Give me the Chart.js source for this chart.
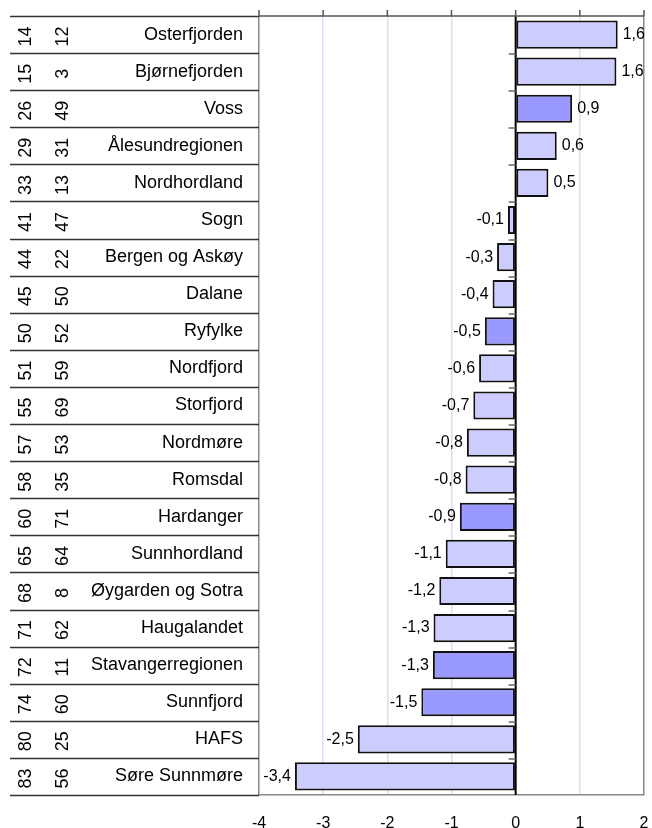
<!DOCTYPE html>
<html>
<head>
<meta charset="utf-8">
<script src="https://cdn.jsdelivr.net/npm/chart.js@4/dist/chart.umd.min.js"></script>
<style>
  body { margin: 0; background: #fff; }
</style>
</head>
<body>
<canvas id="myChart" width="652" height="828"></canvas>
<script>
// regions, top to bottom
const regions = [
  "Osterfjorden", "Bjørnefjorden", "Voss", "Ålesundregionen", "Nordhordland",
  "Sogn", "Bergen og Askøy", "Dalane", "Ryfylke", "Nordfjord", "Storfjord",
  "Nordmøre", "Romsdal", "Hardanger", "Sunnhordland", "Øygarden og Sotra",
  "Haugalandet", "Stavangerregionen", "Sunnfjord", "HAFS", "Søre Sunnmøre"
];
const rankA = [14, 15, 26, 29, 33, 41, 44, 45, 50, 51, 55, 57, 58, 60, 65, 68, 71, 72, 74, 80, 83];
const rankB = [12, 3, 49, 31, 13, 47, 22, 50, 52, 59, 69, 53, 35, 71, 64, 8, 62, 11, 60, 25, 56];
const values = [1.59, 1.57, 0.88, 0.64, 0.51, -0.12, -0.29, -0.36, -0.48, -0.57, -0.66,
  -0.76, -0.78, -0.87, -1.09, -1.19, -1.28, -1.29, -1.47, -2.46, -3.44];
const highlighted = ["Voss", "Ryfylke", "Hardanger", "Stavangerregionen", "Sunnfjord"];
const xTicks = [-4, -3, -2, -1, 0, 1, 2];

const FONT = "'Liberation Sans', Arial, sans-serif";

const fmt = (v) => v.toFixed(1).replace(".", ",");

const extras = {
  id: "extras",
  afterDatasetsDraw(chart) {
    const ctx = chart.ctx;
    const area = chart.chartArea;
    const xs = chart.scales.x;
    const n = regions.length;
    const rowH = (area.bottom - area.top) / n;
    const x0 = xs.getPixelForValue(0);

    ctx.save();
    // zero line + little dashes at the row borders
    ctx.strokeStyle = "#000";
    ctx.lineWidth = 2;
    ctx.beginPath();
    ctx.moveTo(x0, area.top);
    ctx.lineTo(x0, area.bottom);
    ctx.stroke();
    ctx.strokeStyle = "#666";
    ctx.lineWidth = 1.5;
    for (let k = 1; k < n; k++) {
      let yb = Math.round(area.top + k * rowH) + 1;
      ctx.beginPath();
      ctx.moveTo(x0 - 7, yb);
      ctx.lineTo(x0, yb);
      ctx.stroke();
    }

    // top axis line with ticks
    ctx.strokeStyle = "#555";
    ctx.lineWidth = 1.5;
    ctx.beginPath();
    ctx.moveTo(area.left, area.top);
    ctx.lineTo(area.right, area.top);
    ctx.stroke();
    xTicks.forEach((t) => {
      let px = xs.getPixelForValue(t);
      ctx.beginPath();
      ctx.moveTo(px, area.top);
      ctx.lineTo(px, area.top - 6);
      ctx.stroke();
    });

    // table on the left
    ctx.strokeStyle = "#333";
    ctx.lineWidth = 1.5;
    for (let k = 0; k <= n; k++) {
      let yb = Math.round(area.top + k * rowH) + 0.5;
      ctx.beginPath();
      ctx.moveTo(10, yb);
      ctx.lineTo(area.left, yb);
      ctx.stroke();
    }
    ctx.fillStyle = "#000";
    ctx.textBaseline = "middle";
    for (let i = 0; i < n; i++) {
      let yc = area.top + (i + 0.5) * rowH;
      ctx.font = "18px " + FONT;
      ctx.textAlign = "right";
      ctx.fillText(regions[i], 243, yc);

      ctx.textAlign = "center";
      [[25, rankA[i]], [62.5, rankB[i]]].forEach(([cx, num]) => {
        ctx.save();
        ctx.translate(cx, yc);
        ctx.rotate(-Math.PI / 2);
        ctx.fillText(String(num), -2, 1);
        ctx.restore();
      });
    }

    // value labels
    ctx.font = "16px " + FONT;
    const meta = chart.getDatasetMeta(0);
    meta.data.forEach((bar, i) => {
      let v = values[i];
      if (v >= 0) {
        ctx.textAlign = "left";
        ctx.fillText(fmt(v), bar.x + 5, bar.y);
      } else {
        ctx.textAlign = "right";
        ctx.fillText(fmt(v), bar.x - 4, bar.y);
      }
    });
    ctx.restore();
  },
};

new Chart("myChart", {
  type: "bar",
  data: {
    labels: regions,
    datasets: [
      {
        data: values,
        backgroundColor: regions.map((r) => (highlighted.includes(r) ? "#9999ff" : "#ccccff")),
        borderColor: "#111",
        borderWidth: 2,
        borderSkipped: false,
        categoryPercentage: 1,
        barPercentage: 0.76,
      },
    ],
  },
  options: {
    indexAxis: "y",
    responsive: false,
    animation: false,
    layout: { padding: { left: 259, top: 16, right: 8, bottom: 0 } },
    plugins: {
      legend: { display: false },
      tooltip: { enabled: false },
    },
    scales: {
      x: {
        type: "linear",
        min: -4,
        max: 2,
        afterBuildTicks: (scale) => {
          scale.ticks = xTicks.map((v) => ({ value: v }));
        },
        afterFit: (scale) => {
          scale.height = 33;
        },
        grid: {
          drawTicks: true,
          tickLength: 21,
          tickColor: "rgba(0,0,0,0)",
          lineWidth: 1.5,
          color: (c) => {
            let v = c.tick ? c.tick.value : null;
            if (v === 0) return "rgba(0,0,0,0)";
            if (v === -4 || v === 2) return "#888";
            return "#dcdcfa";
          },
        },
        border: { display: true, color: "#888", width: 1.5 },
        ticks: {
          color: "#000",
          padding: 0,
          font: { family: FONT, size: 16, lineHeight: 1 },
          callback: (v) => String(v),
        },
      },
      y: {
        display: false,
        grid: { display: false },
      },
    },
  },
  plugins: [extras],
});
</script>
</body>
</html>
